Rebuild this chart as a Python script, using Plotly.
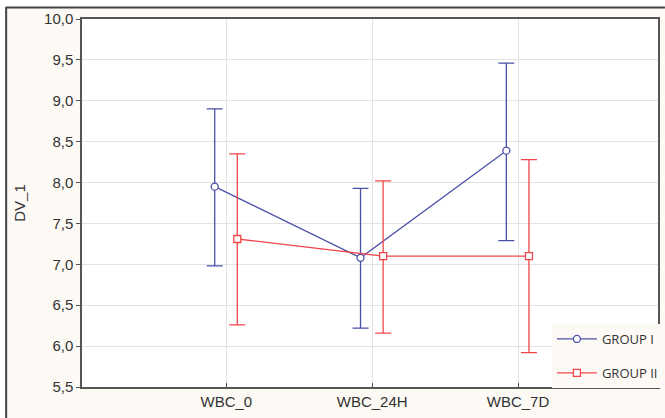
import plotly.graph_objects as go

categories = ["WBC_0", "WBC_24H", "WBC_7D"]
g1_mean = [7.95, 7.08, 8.39]
g1_upper = [8.90, 7.93, 9.46]
g1_lower = [6.98, 6.22, 7.29]
g2_mean = [7.31, 7.10, 7.10]
g2_upper = [8.35, 8.02, 8.28]
g2_lower = [6.26, 6.16, 5.92]
y_ticks = [5.5, 6.0, 6.5, 7.0, 7.5, 8.0, 8.5, 9.0, 9.5, 10.0]

BLUE = "#4a50a8"
RED = "#f0464a"
BG = "#fdfaf5"

idx = list(range(len(categories)))
off1, off2 = -0.08, 0.075

def trace(name, mean, up, lo, off, color, symbol, group):
    return go.Scatter(
        x=[i + off for i in idx], y=mean, name=name, mode="lines+markers",
        legendgroup=group,
        line=dict(color=color, width=1.3),
        marker=dict(symbol=symbol, size=7, color="white", line=dict(color=color, width=1.3)),
        error_y=dict(type="data", symmetric=False,
                     array=[u - m for u, m in zip(up, mean)],
                     arrayminus=[m - l for m, l in zip(mean, lo)],
                     color=color, thickness=1.3, width=8),
    )

fig = go.Figure()
fig.add_trace(trace("GROUP I", g1_mean, g1_upper, g1_lower, off1, BLUE, "circle", "g1"))
fig.add_trace(trace("GROUP II", g2_mean, g2_upper, g2_lower, off2, RED, "square", "g2"))

L, R, T, B = 82, 2, 19, 31
W, H = 665, 418
pw, ph = W - L - R, H - T - B

def px_x(p):
    return (p - L) / pw

def px_y(p):
    return (H - B - p) / ph

fig.update_layout(
    width=W, height=H,
    margin=dict(l=L, r=R, t=T, b=B, pad=0),
    paper_bgcolor=BG, plot_bgcolor="white",
    separators=", ",
    font=dict(family="Liberation Sans, Arial, sans-serif", size=15, color="#333333"),
    showlegend=True,
    legend=dict(x=px_x(556), y=px_y(324), xanchor="left", yanchor="top",
                bgcolor=BG, borderwidth=0, traceorder="grouped", tracegroupgap=14,
                itemwidth=40,
                font=dict(family="Open Sans, sans-serif", size=13, color="#333333")),
    xaxis=dict(range=[-0.99, 2.96], tickvals=idx, ticktext=categories,
               showgrid=True, gridcolor="#e2e2e2", gridwidth=1, zeroline=False,
               showline=True, linecolor="#555555", linewidth=1.5, mirror=True,
               ticks="inside", ticklen=4, tickcolor="#555555",
               tickfont=dict(size=15, color="#333333")),
    yaxis=dict(range=[5.5, 10.0], tickvals=y_ticks, tickformat=".1f",
               showgrid=True, gridcolor="#e2e2e2", gridwidth=1, zeroline=False,
               showline=True, linecolor="#555555", linewidth=1.5, mirror=True,
               ticks="outside", ticklen=4, tickcolor="#555555",
               tickfont=dict(size=15, color="#333333"),
               title=dict(text="DV_1", standoff=15, font=dict(size=15, color="#333333"))),
    shapes=[
        dict(type="rect", xref="paper", yref="paper", x0=px_x(-5), x1=px_x(W + 5),
             y0=px_y(7), y1=px_y(-5), fillcolor="white", line=dict(width=0), layer="above"),
        dict(type="rect", xref="paper", yref="paper", x0=px_x(-5), x1=px_x(5),
             y0=px_y(H + 5), y1=px_y(-5), fillcolor="white", line=dict(width=0), layer="above"),
        dict(type="line", xref="paper", yref="paper", x0=px_x(5), x1=px_x(W + 5),
             y0=px_y(7.5), y1=px_y(7.5), line=dict(color="#444444", width=2), layer="above"),
        dict(type="line", xref="paper", yref="paper", x0=px_x(5.5), x1=px_x(5.5),
             y0=px_y(7), y1=px_y(H + 5), line=dict(color="#444444", width=2), layer="above"),
    ],
)

fig.write_html("out.html", config={"displayModeBar": False})
